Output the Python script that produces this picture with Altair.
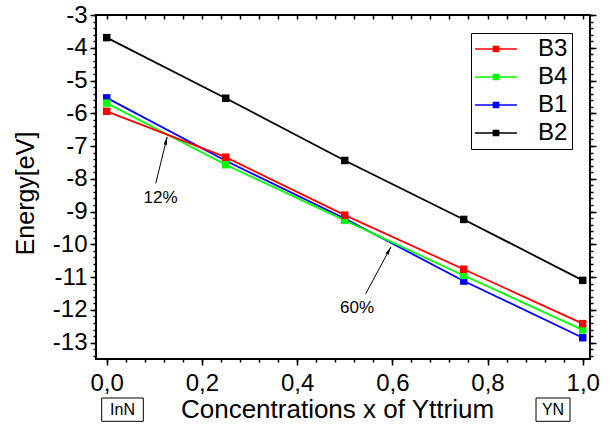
import math
import altair as alt
import pandas as pd

# ---------------- data ----------------
x_values = [0.0, 0.25, 0.5, 0.75, 1.0]
series_names = ["B3", "B4", "B1", "B2"]
series_colors = ["#FF0000", "#00FF00", "#0000FF", "#000000"]
b3_energy = [-5.94, -7.34, -9.11, -10.76, -12.42]
b4_energy = [-5.69, -7.57, -9.27, -10.95, -12.61]
b1_energy = [-5.53, -7.45, -9.21, -11.12, -12.85]
b2_energy = [-3.69, -5.54, -7.44, -9.24, -11.10]

x_major_ticks = [0.0, 0.2, 0.4, 0.6, 0.8, 1.0]
x_minor_ticks = [round(i * 0.04, 2) for i in range(26)]
y_major_ticks = [-3, -4, -5, -6, -7, -8, -9, -10, -11, -12, -13]
y_minor_ticks = [round(-3 - 0.2 * i, 1) for i in range(53)]

annotation_labels = ["12%", "60%"]
annotation_tip_x = [0.127, 0.597]
annotation_tip_y = [-6.72, -10.08]
annotation_tail_x = [0.103, 0.544]
annotation_tail_y = [-8.14, -11.51]
annotation_text_x = [0.113, 0.526]
annotation_text_y = [-8.60, -11.93]

# ---------------- layout ----------------
FONT = "Liberation Sans"
W, H = 494, 344
X_DOM = [-0.0225, 1.0153]
Y_DOM = [-13.5, -3.0]

energy = {"B3": b3_energy, "B4": b4_energy, "B1": b1_energy, "B2": b2_energy}
rows = []
for name in ["B2", "B1", "B4", "B3"]:  # drawing order (red on top)
    for xv, ev in zip(x_values, energy[name]):
        rows.append({"x": xv, "energy": ev, "series": name})
df = pd.DataFrame(rows)

px_x = W / (X_DOM[1] - X_DOM[0])
px_y = H / (Y_DOM[1] - Y_DOM[0])
ann = pd.DataFrame({
    "label": annotation_labels,
    "tip_x": annotation_tip_x, "tip_y": annotation_tip_y,
    "tail_x": annotation_tail_x, "tail_y": annotation_tail_y,
    "text_x": annotation_text_x, "text_y": annotation_text_y,
})
ann["angle"] = [
    math.degrees(math.atan2((tx - sx) * px_x, (ty - sy) * px_y))
    for tx, ty, sx, sy in zip(ann.tip_x, ann.tip_y, ann.tail_x, ann.tail_y)
]

xs = alt.Scale(domain=X_DOM, nice=False, zero=False)
ys = alt.Scale(domain=Y_DOM, nice=False, zero=False)
cs = alt.Scale(domain=series_names, range=series_colors)

common = dict(tickWidth=1.5, tickColor="black", domain=False, grid=False)

x_axis_main = alt.Axis(
    orient="bottom", values=x_major_ticks, tickSize=6,
    labelExpr="replace(format(datum.value, '.1f'), '.', ',')",
    labelFontSize=24, labelFont=FONT, labelColor="black",
    labelBaseline="alphabetic", labelPadding=25, labelFlush=False, labelOverlap=False,
    title="Concentrations x of Yttrium", titleFontSize=26, titleFont=FONT,
    titleFontWeight="normal", titleColor="black", titleX=241, titleY=58,
    titleBaseline="alphabetic", titleAlign="center", **common,
)
x_axis_minor = alt.Axis(orient="bottom", values=x_minor_ticks, tickSize=3,
                        labels=False, title=None, **common)
y_axis_main = alt.Axis(
    orient="left", values=y_major_ticks, tickSize=6,
    labelExpr="'' + datum.value",
    labelFontSize=24, labelFont=FONT, labelColor="black",
    labelPadding=3, labelOverlap=False, labelFlush=False,
    title="Energy[eV]", titleFontSize=25, titleFont=FONT,
    titleFontWeight="normal", titleColor="black", titleX=-63, titleY=178,
    titleBaseline="alphabetic", titleAlign="center", titleAngle=270, **common,
)
y_axis_minor = alt.Axis(orient="left", values=y_minor_ticks, tickSize=3,
                        labels=False, title=None, **common)
x_axis_top = alt.Axis(orient="top", values=x_minor_ticks, tickSize=4, offset=-4,
                      labels=False, title=None, **common)
y_axis_right = alt.Axis(orient="right", values=y_major_ticks, tickSize=6,
                        labels=False, title=None, **common)
y_axis_right_minor = alt.Axis(orient="right", values=y_minor_ticks, tickSize=3,
                              labels=False, title=None, **common)

legend_symbol = "M-5.6,0H5.6M-0.7,-0.7H0.7V0.7H-0.7Z"


def make_legend():
    return alt.Legend(
        title=None, orient="none", legendX=375, legendY=18,
        symbolType=legend_symbol, symbolSize=100, symbolStrokeWidth=1.5,
        symbolOffset=9, labelOffset=30, labelFontSize=24, labelFont=FONT,
        labelColor="black", padding=4, rowPadding=4,
        strokeColor="black", fillColor="white", symbolOpacity=1,
    )


base = alt.Chart(df)

lines = base.mark_line(strokeWidth=1.8).encode(
    x=alt.X("x:Q", scale=xs, axis=x_axis_main),
    y=alt.Y("energy:Q", scale=ys, axis=y_axis_main),
    color=alt.Color("series:N", scale=cs, legend=make_legend()),
    detail="series:N",
)

points = base.mark_point(shape="square", filled=True, opacity=1).encode(
    x=alt.X("x:Q", scale=xs, axis=x_axis_minor),
    y=alt.Y("energy:Q", scale=ys, axis=y_axis_minor),
    color=alt.Color("series:N", scale=cs, legend=make_legend()),
    size=alt.Size("series:N", scale=alt.Scale(domain=series_names, range=[56, 56, 56, 40]), legend=None),
)

mirror = base.mark_point(opacity=0).encode(
    x=alt.X("x:Q", scale=xs, axis=x_axis_top),
    y=alt.Y("energy:Q", scale=ys, axis=y_axis_right),
)
mirror2 = base.mark_point(opacity=0).encode(
    x=alt.X("x:Q", scale=xs, axis=None),
    y=alt.Y("energy:Q", scale=ys, axis=y_axis_right_minor),
)

achart = alt.Chart(ann)
arrows = achart.mark_rule(color="black", strokeWidth=1).encode(
    x=alt.X("tail_x:Q", scale=xs, axis=None),
    y=alt.Y("tail_y:Q", scale=ys, axis=None),
    x2="tip_x:Q", y2="tip_y:Q",
)
heads = achart.mark_point(
    shape="M0,0L-0.35,1.6L0.35,1.6Z", filled=True, color="black", opacity=1, size=100
).encode(
    x=alt.X("tip_x:Q", scale=xs, axis=None),
    y=alt.Y("tip_y:Q", scale=ys, axis=None),
    angle=alt.Angle("angle:Q", scale=None),
)
ann_text = achart.mark_text(font=FONT, fontSize=17, color="black", align="center", baseline="middle").encode(
    x=alt.X("text_x:Q", scale=xs, axis=None),
    y=alt.Y("text_y:Q", scale=ys, axis=None),
    text="label:N",
)

box_inn = alt.Chart(pd.DataFrame({"t": ["InN"]})).mark_rect(
    fill="white", stroke="black", strokeWidth=1
).encode(x=alt.value(5.7), x2=alt.value(47.3), y=alt.value(383), y2=alt.value(406.3))
box_yn = alt.Chart(pd.DataFrame({"t": ["YN"]})).mark_rect(
    fill="white", stroke="black", strokeWidth=1
).encode(x=alt.value(440), x2=alt.value(474), y=alt.value(383), y2=alt.value(406.3))
txt_inn = alt.Chart(pd.DataFrame({"t": ["InN"]})).mark_text(
    font=FONT, fontSize=16, color="black", align="center", baseline="middle"
).encode(x=alt.value(26.5), y=alt.value(395), text="t:N")
txt_yn = alt.Chart(pd.DataFrame({"t": ["YN"]})).mark_text(
    font=FONT, fontSize=16, color="black", align="center", baseline="middle"
).encode(x=alt.value(457), y=alt.value(395), text="t:N")

chart = alt.layer(
    mirror, mirror2, lines, points, arrows, heads, ann_text, box_inn, box_yn, txt_inn, txt_yn
).resolve_axis(x="independent", y="independent").properties(
    width=W, height=H,
    autosize=alt.AutoSizeParams(type="none"),
    padding={"left": 96, "top": 15, "right": 20, "bottom": 68},
    background="white",
).configure(font=FONT).configure_view(stroke="black", strokeWidth=2)

chart.save("out.html", embed_options={"renderer": "svg", "actions": False})
